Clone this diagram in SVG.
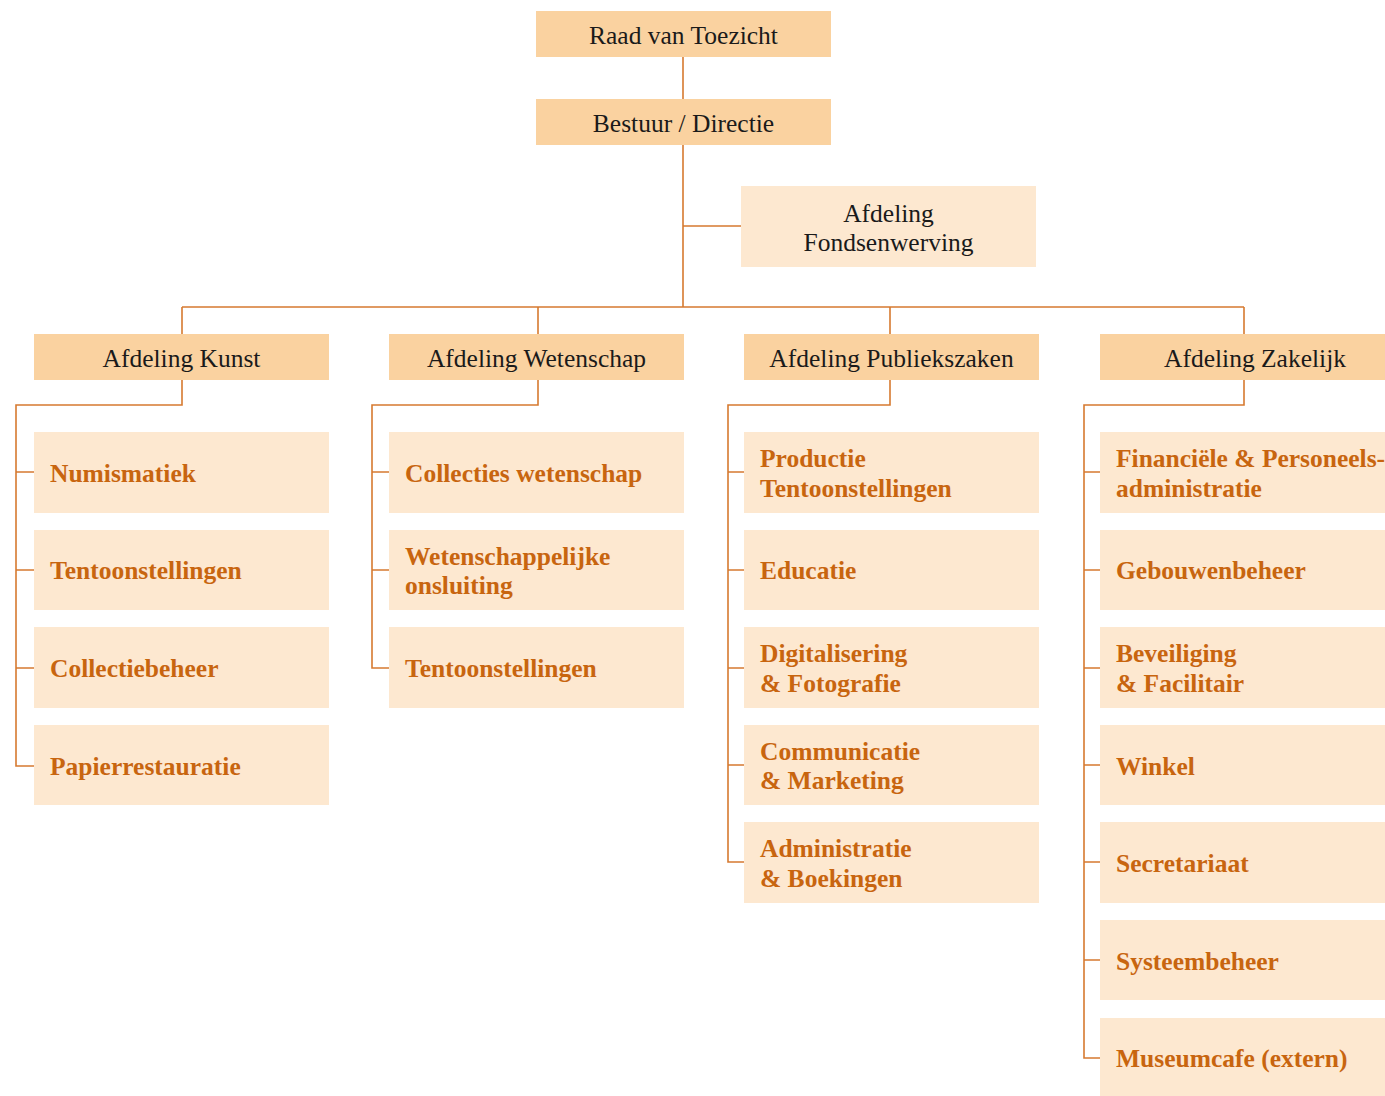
<svg xmlns="http://www.w3.org/2000/svg" width="1385" height="1096" viewBox="0 0 1385 1096">
<style>
.top{fill:#FAD2A0}
.sub{fill:#FDE8D0}
.lt{font-family:"Liberation Serif","DejaVu Serif",serif;font-size:25.5px;fill:#1a1a1a;text-anchor:middle;dominant-baseline:central}
.ct{font-family:"Liberation Serif","DejaVu Serif",serif;font-size:25.5px;fill:#C8650F;font-weight:bold;dominant-baseline:central}
.ln{fill:none;stroke:#D67A30;stroke-width:1.6}
</style>
<rect width="1385" height="1096" fill="#ffffff"/>
<g id="connectors">
<path class="ln" d="M683,57V99M683,145V307M683,226H741M182,307H1244M182,307V334M538,307V334M890,307V334M1244,307V334"/>
<path class="ln" d="M182,380V405H16V766H34M16,472H34M16,570H34M16,668H34"/>
<path class="ln" d="M538,380V405H372V668H389M372,472H389M372,570H389"/>
<path class="ln" d="M890,380V405H728V862H744M728,472H744M728,570H744M728,668H744M728,765H744"/>
<path class="ln" d="M1244,380V405H1084V1058H1100M1084,472H1100M1084,570H1100M1084,668H1100M1084,765H1100M1084,862H1100M1084,960H1100"/>
</g>
<g id="raad"><rect class="top" x="536" y="11" width="295" height="46"/><text class="lt" x="683.5" y="35">Raad van Toezicht</text></g>
<g id="bestuur"><rect class="top" x="536" y="99" width="295" height="46"/><text class="lt" x="683.5" y="123">Bestuur / Directie</text></g>
<g id="fonds"><rect class="sub" x="741" y="186" width="295" height="81"/><text class="lt" x="888.5" y="213">Afdeling</text><text class="lt" x="888.5" y="242">Fondsenwerving</text></g>
<g id="kunst"><rect class="top" x="34" y="334" width="295" height="46"/><text class="lt" x="181.5" y="358">Afdeling Kunst</text></g>
<g id="wetenschap"><rect class="top" x="389" y="334" width="295" height="46"/><text class="lt" x="536.5" y="358">Afdeling Wetenschap</text></g>
<g id="publiek"><rect class="top" x="744" y="334" width="295" height="46"/><text class="lt" x="891.5" y="358">Afdeling Publiekszaken</text></g>
<g id="zakelijk"><rect class="top" x="1100" y="334" width="285" height="46"/><text class="lt" x="1255" y="358">Afdeling Zakelijk</text></g>

<g id="k1"><rect class="sub" x="34" y="432" width="295" height="81"/><text class="ct" x="50" y="473">Numismatiek</text></g>
<g id="k2"><rect class="sub" x="34" y="530" width="295" height="80"/><text class="ct" x="50" y="570">Tentoonstellingen</text></g>
<g id="k3"><rect class="sub" x="34" y="627" width="295" height="81"/><text class="ct" x="50" y="668">Collectiebeheer</text></g>
<g id="k4"><rect class="sub" x="34" y="725" width="295" height="80"/><text class="ct" x="50" y="766">Papierrestauratie</text></g>

<g id="w1"><rect class="sub" x="389" y="432" width="295" height="81"/><text class="ct" x="405" y="473">Collecties wetenschap</text></g>
<g id="w2"><rect class="sub" x="389" y="530" width="295" height="80"/><text class="ct" x="405" y="556">Wetenschappelijke</text><text class="ct" x="405" y="585">onsluiting</text></g>
<g id="w3"><rect class="sub" x="389" y="627" width="295" height="81"/><text class="ct" x="405" y="668">Tentoonstellingen</text></g>

<g id="p1"><rect class="sub" x="744" y="432" width="295" height="81"/><text class="ct" x="760" y="458">Productie</text><text class="ct" x="760" y="488">Tentoonstellingen</text></g>
<g id="p2"><rect class="sub" x="744" y="530" width="295" height="80"/><text class="ct" x="760" y="570">Educatie</text></g>
<g id="p3"><rect class="sub" x="744" y="627" width="295" height="81"/><text class="ct" x="760" y="653">Digitalisering</text><text class="ct" x="760" y="683">&amp; Fotografie</text></g>
<g id="p4"><rect class="sub" x="744" y="725" width="295" height="80"/><text class="ct" x="760" y="751">Communicatie</text><text class="ct" x="760" y="780">&amp; Marketing</text></g>
<g id="p5"><rect class="sub" x="744" y="822" width="295" height="81"/><text class="ct" x="760" y="848">Administratie</text><text class="ct" x="760" y="878">&amp; Boekingen</text></g>

<g id="z1"><rect class="sub" x="1100" y="432" width="285" height="81"/><text class="ct" x="1116" y="458">Financiële &amp; Personeels-</text><text class="ct" x="1116" y="488">administratie</text></g>
<g id="z2"><rect class="sub" x="1100" y="530" width="285" height="80"/><text class="ct" x="1116" y="570">Gebouwenbeheer</text></g>
<g id="z3"><rect class="sub" x="1100" y="627" width="285" height="81"/><text class="ct" x="1116" y="653">Beveiliging</text><text class="ct" x="1116" y="683">&amp; Facilitair</text></g>
<g id="z4"><rect class="sub" x="1100" y="725" width="285" height="80"/><text class="ct" x="1116" y="766">Winkel</text></g>
<g id="z5"><rect class="sub" x="1100" y="822" width="285" height="81"/><text class="ct" x="1116" y="863">Secretariaat</text></g>
<g id="z6"><rect class="sub" x="1100" y="920" width="285" height="80"/><text class="ct" x="1116" y="961">Systeembeheer</text></g>
<g id="z7"><rect class="sub" x="1100" y="1018" width="285" height="78"/><text class="ct" x="1116" y="1058">Museumcafe (extern)</text></g>
</svg>
